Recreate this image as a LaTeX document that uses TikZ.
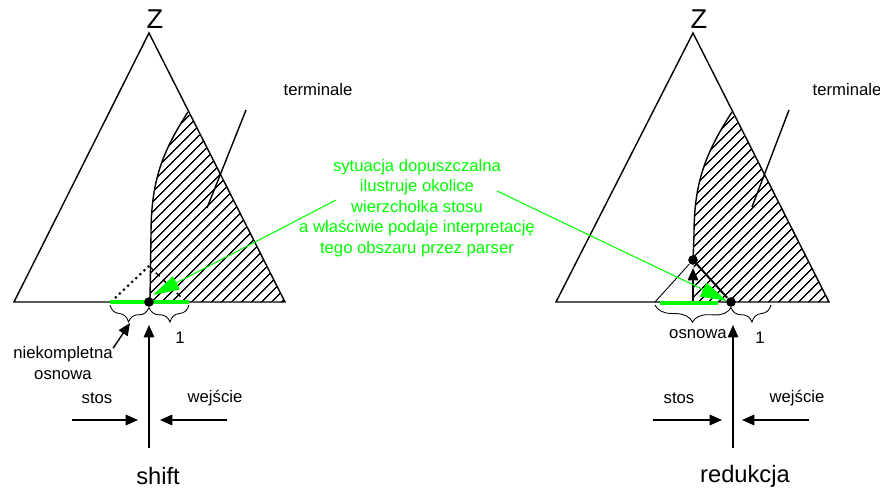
\documentclass[tikz,border=0pt]{standalone}
\usepackage{fontspec}
\setmainfont{Liberation Sans}
\usetikzlibrary{arrows.meta,decorations.pathreplacing,patterns.meta}
\definecolor{jasnozielony}{RGB}{0,255,0}

\begin{document}
\begin{tikzpicture}[x=0.02cm, y=-0.02cm, line width=0.8pt, >={Triangle[length=7pt,width=6pt]},
  every node/.style={font=\fontsize{9.5}{11.6}\selectfont, inner sep=1pt},
  duzy/.style={font=\fontsize{13.5}{16}\selectfont},
  kropka/.style={circle,fill=black,inner sep=0pt,minimum size=5.5pt},
  szrafura/.style={pattern={Lines[angle=45,distance=4pt,line width=0.8pt]}},
  klamra/.style={decorate,decoration={brace,mirror,amplitude=9pt},line width=0.5pt},
  ziel/.style={jasnozielony,line width=0.6pt,-{Triangle[length=15pt,width=8.5pt]}}]
\useasboundingbox (0,0) rectangle (880,494);

% lewy trojkat (shift)
\coordinate (a1) at (149,33);
\coordinate (b1) at (14,302);
\coordinate (c1) at (285,302);
\fill[szrafura] (188,112) .. controls (160,155) and (151,185) .. (151,235) -- (150,302) -- (c1) -- cycle;
\draw (188,112) .. controls (160,155) and (151,185) .. (151,235) -- (150,300);
\draw (b1) -- (a1) -- (c1) -- cycle;
\node[font=\fontsize{15.5}{18}\selectfont] (z1) at (155,19) {Z};
\node (term1) at (318,90) {terminale};
\coordinate (p1) at (246,110);
\coordinate (q1) at (207,208);
\draw (p1) -- (q1);

\coordinate (w1) at (149,266);
\draw[dotted,line width=1.2pt] (115,298) -- (w1);
\draw[dash pattern=on 3pt off 2.5pt] (w1) -- (183,299);
\draw[jasnozielony,line width=2.8pt] (110,302) -- (189,302);
\node[kropka] (d1) at (149,302) {};
\draw[klamra] (110,305) -- (d1.south);
\draw[klamra] (d1.south) -- (189,305);
\node (jeden1) at (180,338) {1};
\node[align=center] (niek) at (63,363) {niekompletna\\osnowa};
\coordinate (k1) at (130,323);
\draw[->] (niek.north east) ++(-2,4) coordinate (n1) (n1) -- (k1);

\coordinate (s1) at (149,448);
\coordinate (u1) at (149,325);
\draw[->] (s1) -- (u1);
\node (stos1) at (97,398) {stos};
\node (wej1) at (215,398) {wejście};
\coordinate (e1) at (72,420);  \coordinate (f1) at (138,420);
\coordinate (g1) at (227,420); \coordinate (h1) at (160,420);
\draw[->] (e1) -- (f1);
\draw[->] (g1) -- (h1);
\node[duzy] (shift) at (158,476) {shift};

% prawy trojkat (redukcja)
\coordinate (a2) at (693,33);
\coordinate (b2) at (556,302);
\coordinate (c2) at (829,302);
\fill[szrafura] (732,112) .. controls (704,155) and (694,185) .. (694,235) -- (693,302) -- (c2) -- cycle;
\draw (732,112) .. controls (704,155) and (694,185) .. (694,235) -- (693,260);
\draw (b2) -- (a2) -- (c2) -- cycle;
\node[font=\fontsize{15.5}{18}\selectfont] (z2) at (699,19) {Z};
\node (term2) at (847,90) {terminale};
\coordinate (p2) at (789,110);
\coordinate (q2) at (752,207);
\draw (p2) -- (q2);

\node[kropka] (d2) at (693,260) {};
\node[kropka] (d3) at (731,302) {};
\draw[line width=0.5pt] (d2) -- (655,302);
\draw[line width=1.1pt] (d2) -- (d3);
\coordinate (v2) at (693,302);
\draw[->] (v2) -- (693,268);
\draw[jasnozielony,line width=2.8pt] (660,303) -- (718,303);
\draw[klamra] (655,305) -- (d3.south);
\draw[klamra] (d3.south) -- (771,305);
\node (osn) at (698,334) {osnowa};
\node (jeden2) at (760,338) {1};

\coordinate (s2) at (733,448);
\coordinate (u2) at (733,325);
\draw[->] (s2) -- (u2);
\node (stos2) at (679,398) {stos};
\node (wej2) at (797,398) {wejście};
\coordinate (e2) at (653,420); \coordinate (f2) at (722,420);
\coordinate (g2) at (809,420); \coordinate (h2) at (742,420);
\draw[->] (e2) -- (f2);
\draw[->] (g2) -- (h2);
\node[duzy] (red) at (745,476) {redukcja};

% opis na zielono
\node[jasnozielony,align=center] (opis) at (417,208) {sytuacja dopuszczalna\\ilustruje okolice\\wierzchołka stosu\\a właściwie podaje interpretację\\tego obszaru przez parser};
\coordinate (o1) at (336,200);
\coordinate (o2) at (497,191);
\coordinate (t1) at (153,295);
\coordinate (t2) at (727,301);
\draw[ziel] (o1) -- (t1);
\draw[ziel] (o2) -- (t2);
\end{tikzpicture}
\end{document}
